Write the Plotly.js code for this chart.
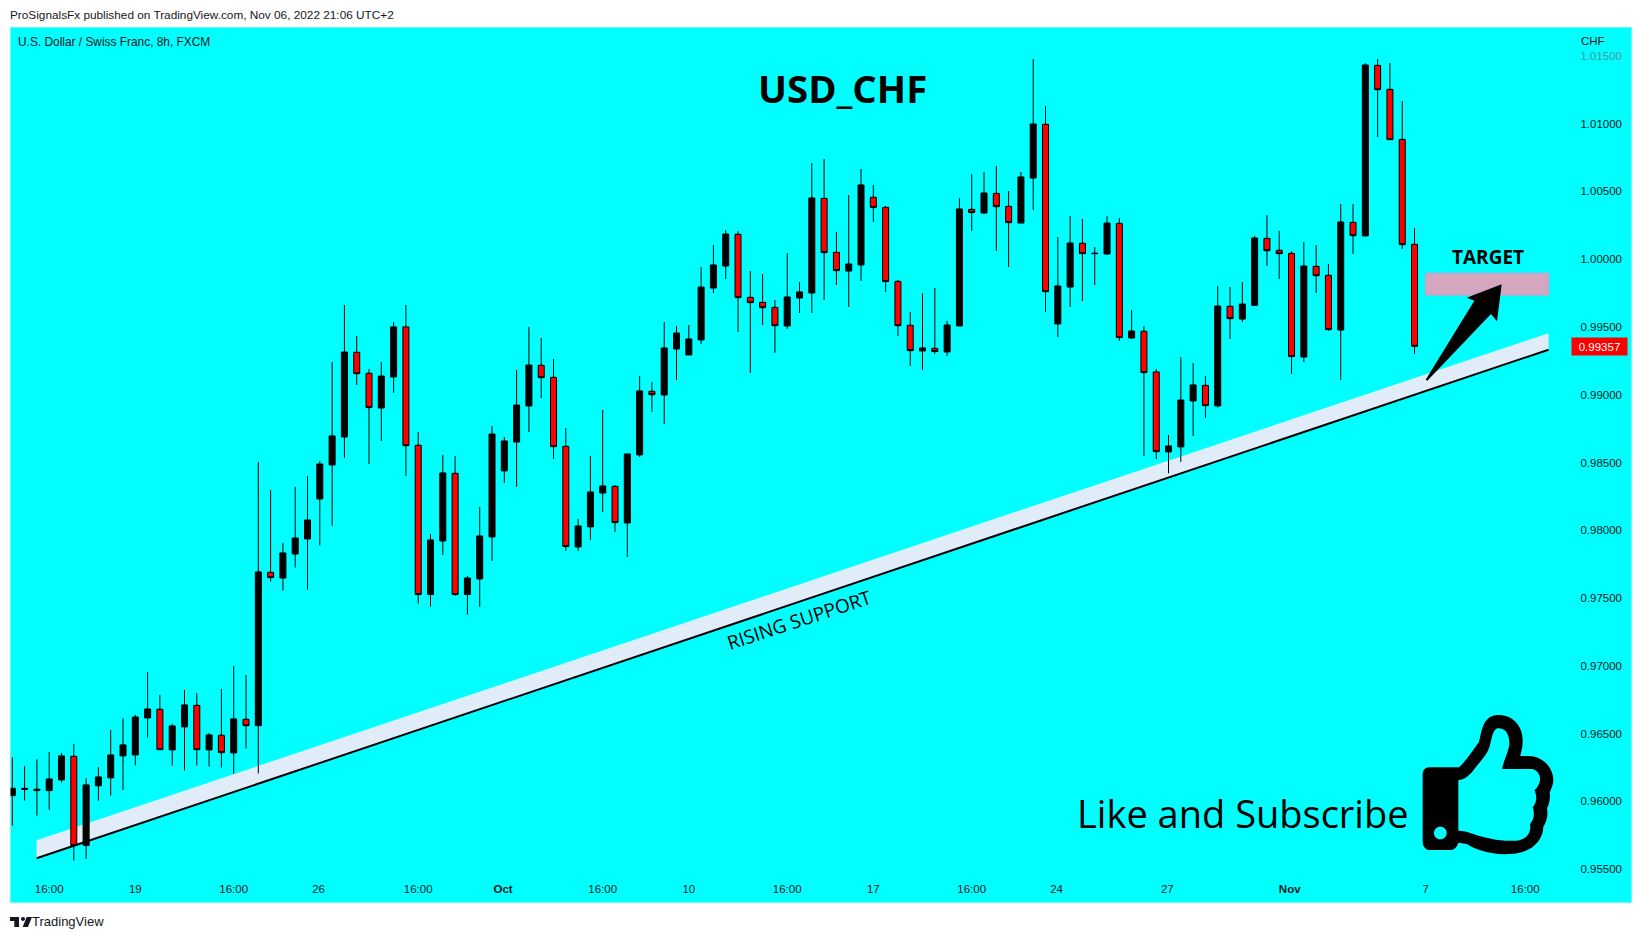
<!DOCTYPE html>
<html>
<head>
<meta charset="utf-8">
<script src="https://cdn.plot.ly/plotly-3.0.1.min.js"></script>
<style>html,body{margin:0;padding:0;background:#fff;overflow:hidden}#chart{width:1642px;height:939px}</style>
</head>
<body>
<div id="chart"></div>
<script>
const opens = [.96043,.96088,.96080,.96080,.96159,.96333,.95675,.96115,.96174,.96336,
.96343,.96616,.96680,.96380,.96550,.96709,.96380,.96488,.96358,.96606,
.96559,.97690,.97648,.97825,.97936,.98231,.98482,.98688,.99313,.99158,
.98902,.99131,.99500,.98627,.97526,.97921,.98420,.97526,.97641,.97951,
.98438,.98651,.98917,.99217,.99128,.98619,.97877,.98025,.98275,.98324,
.98054,.98556,.99025,.98998,.99337,.99293,.99404,.99787,.99949,1.00183,
.99718,.99681,.99644,.99507,.99713,.99750,1.00448,1.00050,.99912,.99957,
1.00456,1.00382,.99836,.99512,.99323,.99342,.99315,.99507,1.00367,1.00340,
1.00485,1.00389,1.00266,1.00598,1.00994,.99522,.99794,1.00117,1.00040,1.00038,
1.00264,.99418,.99468,.99168,.98578,.98615,.98954,.99069,.98917,.99652,
.99558,.99659,1.00153,1.00065,1.00043,.99278,.99947,.99881,.99477,1.00271,
1.00171,1.01429,1.01252,1.00883,1.00109];
const closes = [.96097,.96097,.96090,.96166,.96336,.95675,.96122,.96181,.96343,.96417,
.96623,.96682,.96382,.96557,.96712,.96382,.96491,.96360,.96609,.96559,
.97693,.97651,.97833,.97943,.98076,.98489,.98696,.99315,.99155,.98905,
.99138,.99500,.98624,.97526,.97929,.98423,.97526,.97648,.97958,.98710,
.98659,.98924,.99219,.99126,.98617,.97880,.98032,.98283,.98327,.98057,
.98563,.99028,.99000,.99345,.99455,.99411,.99794,.99957,1.00185,.99716,
.99679,.99642,.99509,.99721,.99758,1.00451,1.00048,.99915,.99964,1.00547,
1.00380,.99834,.99509,.99325,.99345,.99318,.99514,1.00370,1.00343,1.00488,
1.00387,1.00269,1.00606,1.00997,.99760,.99802,1.00119,1.00040,1.00043,1.00266,
.99421,.99470,.99163,.98580,.98622,.98961,.99072,.98919,.99654,.99561,
.99669,1.00156,1.00062,1.00040,.99281,.99949,.99878,.99480,1.00274,1.00173,
1.01432,1.01250,1.00881,1.00107,.99357];
const highs = [.96326,.96262,.96311,.96365,.96358,.96424,.96171,.96252,.96528,.96616,
.96638,.96955,.96786,.96572,.96823,.96800,.96505,.96830,.97000,.96933,
.98504,.98297,.97907,.98320,.98401,.98511,.99241,.99662,.99433,.99190,
.99241,.99536,.99662,.98725,.97973,.98556,.98548,.97663,.98172,.98769,
.98688,.99182,.99500,.99418,.99263,.98755,.98084,.98548,.98887,.98334,
.98563,.99138,.99094,.99536,.99507,.99514,.99942,1.00104,1.00215,1.00205,
.99912,.99890,.99699,1.00045,.99831,1.00709,1.00738,1.00200,1.00473,1.00665,
1.00547,1.00392,.99846,.99610,.99750,.99787,.99544,1.00451,1.00628,1.00643,
1.00687,1.00502,1.00643,1.01476,1.01129,1.00163,1.00318,1.00296,1.00089,1.00318,
1.00303,.99625,.99507,.99190,.98703,.99278,.99234,.99138,.99802,.99794,
.99831,1.00171,1.00325,1.00208,1.00057,1.00126,1.00104,.99964,1.00407,1.00407,
1.01446,1.01476,1.01446,1.01166,1.00230];
const lows = [.95822,.96006,.95896,.95938,.96139,.95564,.95576,.96006,.96043,.96085,
.96265,.96471,.96382,.96265,.96228,.96265,.96257,.96250,.96206,.96390,
.96206,.97621,.97555,.97725,.97562,.97887,.98034,.98533,.99072,.98489,
.98659,.99013,.98401,.97459,.97435,.97818,.97518,.97378,.97435,.97774,
.98349,.98320,.98725,.98976,.98526,.97848,.97848,.97929,.98135,.97988,
.97803,.98541,.98873,.98784,.99109,.99293,.99374,.99750,.99853,.99463,
.99160,.99514,.99308,.99485,.99603,.99603,.99699,.99809,.99647,.99839,
1.00274,.99758,.99433,.99212,.99182,.99300,.99286,.99507,1.00208,1.00333,
1.00060,.99942,1.00266,1.00362,.99610,.99426,.99647,.99691,.99809,1.00030,
.99396,.99411,.98548,.98526,.98420,.98504,.98696,.98828,.98905,.99411,
.99536,.99654,.99949,.99853,.99153,.99241,.99750,.99470,.99109,1.00038,
1.00171,1.00901,1.00881,1.00075,.99300];

const priceTicks = [0.955,0.96,0.965,0.97,0.975,0.98,0.985,0.99,0.995,1.0,1.005,1.01,1.015];
const priceTickLabels = ['0.95500','0.96000','0.96500','0.97000','0.97500','0.98000','0.98500','0.99000','0.99500','1.00000','1.00500','1.01000','<span style="color:#4d9a9e">1.01500</span>'];
const timeTicks = [3,10,18,24.9,33,39.9,48,55,63,70,78,84.9,93.9,103.85,114.9,123];
const timeTickLabels = ['16:00','19','16:00','26','16:00','<b>Oct</b>','16:00','10','16:00','17','16:00','24','27','<b>Nov</b>','7','16:00'];

const supportIdx = [1.98,124.9];
const supportPrice = [.95581,.99332];
const supportBandTop = [.95714,.99454];
const targetIdx = [114.9,124.9];
const targetPrice = [.99735,.99895];

const W=1642,H=939,L=10,R=10,T=27,B=36;
const pw=W-L-R, ph=H-T-B;
const px=x=>(x-L)/pw, py=y=>1-(y-T)/ph;
// Icon outlines: [originX, originY, path in 1/3-pixel units]
function iconPath(ox,oy,d){
  let i=0;
  return d.replace(/-?\d+(\.\d+)?/g,n=>{
    const v=parseFloat(n)/3; const odd=i++%2;
    return (odd?py(oy+v):px(ox+v)).toFixed(5);
  });
}
const thumbD = 'M58 202 L147 202 C165 185 190 150 207 125 C215 100 215 50 260 45 C305 42 340 75 338 125 C338 145 333 155 331 168 L355 168 C400 168 430 205 430 240 C430 255 424 265 419 278 C422 295 417 315 411 325 C415 345 410 365 400 380 C400 420 365 460 300 462 C240 465 200 450 170 432 L145 428 C140 445 130 450 120 450 L60 450 C48 450 38 440 38 425 L38 222 C38 210 48 202 58 202 Z '
 + 'M145 240 C165 240 180 225 195 205 C210 185 225 170 235 150 C245 130 245 90 262 85 C280 82 298 95 298 130 C298 150 280 185 276 207 L365 207 C380 207 392 225 390 240 C388 255 380 265 373 270 C380 285 383 305 368 322 C375 340 372 360 360 372 C365 395 350 420 320 422 C270 425 230 415 190 402 C170 395 160 392 145 392 Z '
 + 'M72 399 C72 388 80 380 91 380 C102 380 110 388 110 399 C110 410 102 418 91 418 C80 418 72 410 72 399 Z';
const arrowD = 'M47 449 L193 212 L170 203 L275 163 L261 274 L243 252 L52 452 Z';
const logoD = 'M0 0 L27 0 L27 30 L13 30 L13 12 L0 12 Z M33 6 C33 2 36 0 39 0 C42 0 45 2 45 6 C45 9 42 12 39 12 C36 12 33 9 33 6 Z M50 0 L66 0 L54 30 L38 30 Z';

const trace = {
  type:'candlestick',
  x:closes.map((_,i)=>i), open:opens, high:highs, low:lows, close:closes,
  increasing:{line:{color:'#000000',width:1},fillcolor:'#000000'},
  decreasing:{line:{color:'#000000',width:1},fillcolor:'#ff0000'},
  whiskerwidth:0, width:0.66, hoverinfo:'skip', showlegend:false
};
function txt(x,y,text,size,opt){
  return Object.assign({xref:'paper',yref:'paper',x:px(x),y:py(y),text:text,showarrow:false,
    xanchor:'center',yanchor:'middle',font:{family:'"Open Sans",sans-serif',size:size,color:'#000'}},opt||{});
}
const lib='"Liberation Sans",Arial,sans-serif';
const layout = {
  width:W,height:H,
  margin:{l:L,r:R,t:T,b:B,pad:0},
  paper_bgcolor:'#ffffff',plot_bgcolor:'#00ffff',
  showlegend:false,
  xaxis:{type:'linear',range:[-0.187,131.68],rangeslider:{visible:false},showgrid:false,zeroline:false,
    tickmode:'array',tickvals:timeTicks,ticktext:timeTickLabels,ticks:'',ticklabelposition:'inside',
    ticklabelstandoff:5,tickfont:{family:lib,size:11.5,color:'#131722'},showline:false,fixedrange:true},
  yaxis:{type:'linear',side:'right',range:[0.95251,1.01712],showgrid:false,zeroline:false,
    tickmode:'array',tickvals:priceTicks,ticktext:priceTickLabels,ticks:'',ticklabelposition:'inside',
    ticklabelstandoff:7,tickfont:{family:lib,size:11.5,color:'#131722'},showline:false,fixedrange:true},
  shapes:[
    {type:'rect',xref:'paper',yref:'paper',x0:0,x1:1,y0:0,y1:1,line:{color:'#dcecf0',width:1},layer:'above'},
    {type:'path',xref:'x',yref:'y',layer:'below',fillcolor:'#e0ecf8',line:{width:0},
      path:`M${supportIdx[0]} ${supportPrice[0]} L${supportIdx[1]} ${supportPrice[1]} L${supportIdx[1]} ${supportBandTop[1]} L${supportIdx[0]} ${supportBandTop[0]} Z`},
    {type:'line',xref:'x',yref:'y',layer:'below',x0:supportIdx[0],y0:supportPrice[0],x1:supportIdx[1],y1:supportPrice[1],line:{color:'#000',width:2}},
    {type:'rect',xref:'x',yref:'y',layer:'below',x0:targetIdx[0],x1:targetIdx[1],y0:targetPrice[0],y1:targetPrice[1],fillcolor:'#d4a6bf',line:{color:'#e090cc',width:1}},
    {type:'path',xref:'paper',yref:'paper',layer:'above',fillcolor:'#000',line:{width:0},path:iconPath(1410,230,arrowD)},
    {type:'path',xref:'paper',yref:'paper',layer:'above',fillcolor:'#000',line:{width:0},fillrule:'evenodd',path:iconPath(1410,700,thumbD)},
    {type:'path',xref:'paper',yref:'paper',layer:'above',fillcolor:'#131722',line:{width:0},path:iconPath(10,917,logoD)}
  ],
  annotations:[
    txt(10,14.5,'ProSignalsFx published on TradingView.com, Nov 06, 2022 21:06 UTC+2',11.8,{xanchor:'left',xshift:-2,font:{family:lib,size:11.8,color:'#131722'}}),
    txt(16,42,'U.S. Dollar / Swiss Franc, 8h, FXCM',11.9,{xanchor:'left',font:{family:lib,size:11.9,color:'#131722'}}),
    txt(1593,41,'CHF',11.5,{font:{family:lib,size:11.5,color:'#131722'}}),
    txt(842,88,'<b>USD_CHF</b>',38.4),
    txt(1488,257,'<b>TARGET</b>',19),
    txt(799,619.5,'RISING SUPPORT',19,{textangle:-18.2}),
    txt(1075,813,'Like and Subscribe',38,{xanchor:'left'}),
    txt(30,921,'TradingView',13,{xanchor:'left',font:{family:lib,size:13,color:'#131722'}}),
    {xref:'paper',yref:'y',x:px(1599.5),y:closes[closes.length-1],text:closes[closes.length-1].toFixed(5),showarrow:false,
     xanchor:'center',yanchor:'middle',width:55,height:17,bgcolor:'#ff0000',font:{family:lib,size:11.5,color:'#ffffff'},borderpad:0}
  ]
};
Plotly.newPlot('chart',[trace],layout,{staticPlot:true,displayModeBar:false});
</script>
</body>
</html>
